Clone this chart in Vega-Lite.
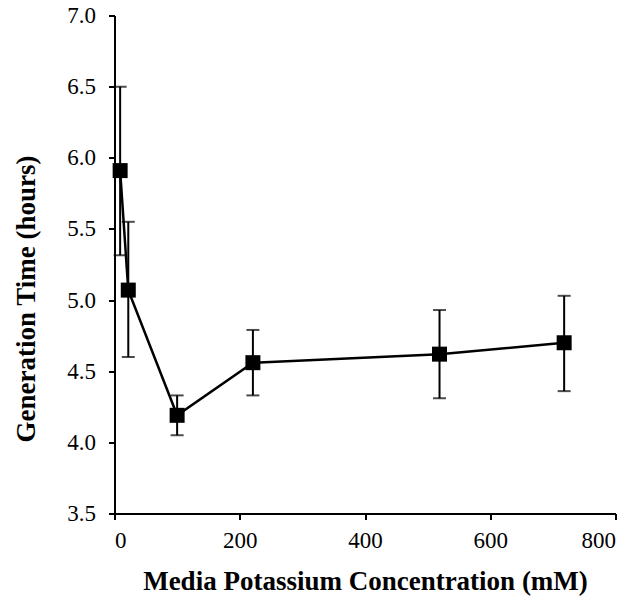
{
  "$schema": "https://vega.github.io/schema/vega-lite/v6.json",
  "width": 501,
  "height": 498,
  "autosize": {"type": "none"},
  "padding": {"left": 114.5, "top": 15.5, "right": 28.5, "bottom": 82.5},
  "background": "white",
  "config": {
    "view": {"stroke": null},
    "axis": {
      "grid": false,
      "domainColor": "black",
      "domainWidth": 2,
      "tickColor": "black",
      "tickWidth": 2,
      "tickSize": 6,
      "labelFont": "Liberation Serif",
      "labelFontSize": 23,
      "labelColor": "black",
      "titleFont": "Liberation Serif",
      "titleFontSize": 27,
      "titleFontWeight": "bold",
      "titleColor": "black"
    }
  },
  "data": {
    "values": [
      {"conc": 9, "time": 5.91, "lo": 5.315, "hi": 6.5},
      {"conc": 22, "time": 5.07, "lo": 4.6, "hi": 5.55},
      {"conc": 100, "time": 4.19, "lo": 4.05, "hi": 4.33},
      {"conc": 221, "time": 4.56, "lo": 4.33, "hi": 4.79},
      {"conc": 519, "time": 4.62, "lo": 4.31, "hi": 4.93},
      {"conc": 718, "time": 4.7, "lo": 4.36, "hi": 5.03}
    ]
  },
  "encoding": {
    "x": {
      "field": "conc",
      "type": "quantitative",
      "scale": {"domain": [0, 800], "nice": false, "zero": false},
      "axis": {
        "title": "Media Potassium Concentration (mM)",
        "values": [0, 200, 400, 600, 800],
        "labelPadding": 10,
        "titleY": 76,
        "titleBaseline": "alphabetic"
      }
    }
  },
  "layer": [
    {
      "mark": {"type": "rule", "color": "black", "strokeWidth": 2},
      "encoding": {
        "y": {"field": "lo", "type": "quantitative", "scale": {"domain": [3.5, 7.0], "nice": false, "zero": false},
          "axis": {
            "title": "Generation Time (hours)",
            "values": [3.5, 4.0, 4.5, 5.0, 5.5, 6.0, 6.5, 7.0],
            "format": ".1f",
            "labelPadding": 13,
            "titleAngle": 270,
            "titleX": -80,
            "titleY": 283,
            "titleAlign": "center",
            "titleBaseline": "alphabetic"
          }
        },
        "y2": {"field": "hi"}
      }
    },
    {
      "mark": {"type": "tick", "color": "black", "orient": "horizontal", "size": 13, "thickness": 2},
      "encoding": {"y": {"field": "lo", "type": "quantitative"}}
    },
    {
      "mark": {"type": "tick", "color": "black", "orient": "horizontal", "size": 13, "thickness": 2},
      "encoding": {"y": {"field": "hi", "type": "quantitative"}}
    },
    {
      "mark": {"type": "line", "color": "black", "strokeWidth": 2.5},
      "encoding": {"y": {"field": "time", "type": "quantitative"}}
    },
    {
      "mark": {"type": "point", "shape": "square", "filled": true, "color": "black", "opacity": 1, "size": 225},
      "encoding": {"y": {"field": "time", "type": "quantitative"}}
    }
  ]
}
